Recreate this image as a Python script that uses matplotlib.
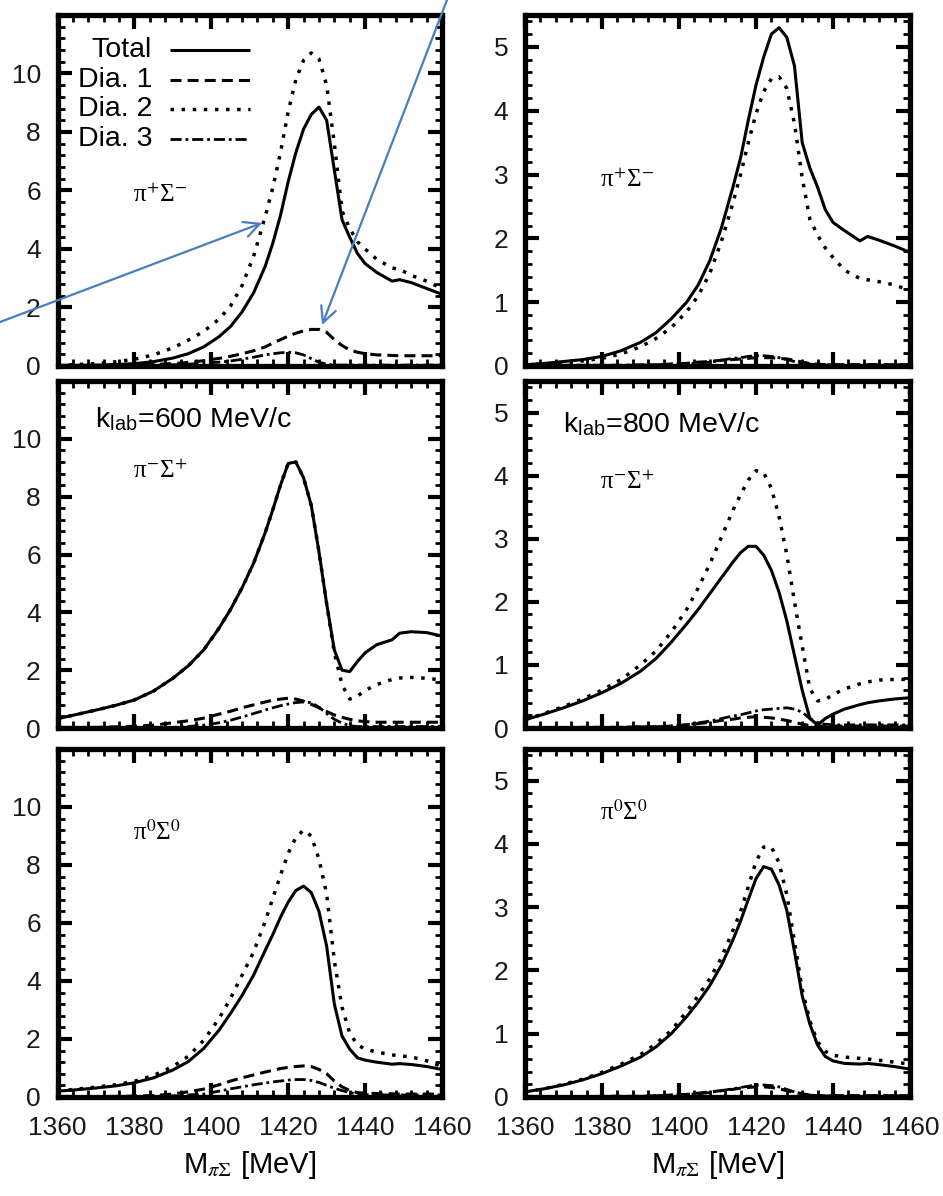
import numpy as np
import matplotlib.pyplot as plt
from matplotlib.ticker import MultipleLocator

plt.rc('font', family='Liberation Sans', size=18)
plt.rc('mathtext', fontset='stix')

# invariant mass grid M_piSigma [MeV]
m_pisig = [1360, 1365, 1370, 1375, 1380, 1385, 1390, 1394, 1398, 1402, 1405,
           1408, 1411, 1414, 1416, 1418, 1420, 1422, 1424, 1426, 1428, 1430,
           1432, 1434, 1436, 1438, 1440, 1443, 1447, 1449, 1452, 1456, 1460]

# pi+ Sigma-, k_lab = 600 MeV/c
pp600_total = [0.02, 0.02, 0.03, 0.05, 0.08, 0.15, 0.27, 0.42, 0.65, 1.0, 1.35, 1.85, 2.5, 3.4, 4.2,
               5.15, 6.3, 7.3, 8.1, 8.6, 8.85, 8.4, 6.7, 5.0, 4.4, 3.85, 3.5, 3.2, 2.9, 2.95, 2.85, 2.65, 2.45]
pp600_dia1 = [0.0, 0.01, 0.01, 0.02, 0.03, 0.05, 0.08, 0.12, 0.18, 0.26, 0.33, 0.42, 0.52, 0.65, 0.78,
              0.9, 1.02, 1.12, 1.2, 1.25, 1.25, 1.15, 0.9, 0.7, 0.55, 0.47, 0.42, 0.38, 0.36, 0.35, 0.35, 0.35, 0.35]
pp600_dia2 = [0.02, 0.05, 0.08, 0.14, 0.23, 0.38, 0.62, 0.88, 1.18, 1.6, 2.05, 2.75, 3.75, 5.1, 6.1,
              7.3, 8.7, 9.8, 10.45, 10.7, 10.5, 9.6, 7.6, 5.3, 4.7, 4.25, 4.0, 3.65, 3.35, 3.3, 3.1, 2.9, 2.65]
pp600_dia3 = [0.0, 0.0, 0.01, 0.01, 0.02, 0.03, 0.04, 0.06, 0.1, 0.13, 0.17, 0.23, 0.3, 0.38, 0.42,
              0.45, 0.47, 0.45, 0.38, 0.25, 0.13, 0.06, 0.03, 0.03, 0.03, 0.03, 0.03, 0.03, 0.03, 0.03, 0.03, 0.03, 0.03]

# pi+ Sigma-, k_lab = 800 MeV/c
pp800_total = [0.02, 0.04, 0.07, 0.1, 0.15, 0.24, 0.37, 0.52, 0.74, 1.0, 1.27, 1.65, 2.16, 2.8, 3.26,
               3.85, 4.4, 4.84, 5.2, 5.3, 5.15, 4.7, 3.5, 3.1, 2.8, 2.45, 2.25, 2.12, 1.96, 2.03, 1.97, 1.88, 1.78]
pp800_dia1 = [0.01, 0.01, 0.01, 0.01, 0.01, 0.01, 0.01, 0.02, 0.03, 0.04, 0.06, 0.07, 0.09, 0.1, 0.11,
              0.12, 0.13, 0.13, 0.13, 0.12, 0.11, 0.09, 0.06, 0.04, 0.03, 0.02, 0.02, 0.02, 0.02, 0.02, 0.02, 0.02, 0.02]
pp800_dia2 = [0.02, 0.03, 0.05, 0.08, 0.12, 0.19, 0.3, 0.43, 0.6, 0.85, 1.1, 1.45, 1.95, 2.55, 3.0,
              3.5, 3.95, 4.3, 4.5, 4.53, 4.35, 3.8, 2.95, 2.3, 2.05, 1.85, 1.7, 1.5, 1.37, 1.35, 1.32, 1.27, 1.18]
pp800_dia3 = [0.0, 0.0, 0.0, 0.01, 0.01, 0.01, 0.02, 0.02, 0.03, 0.04, 0.04, 0.06, 0.09, 0.12, 0.13,
              0.15, 0.16, 0.16, 0.15, 0.13, 0.1, 0.07, 0.04, 0.03, 0.02, 0.02, 0.02, 0.02, 0.02, 0.02, 0.02, 0.02, 0.02]

# pi- Sigma+, k_lab = 600 MeV/c
mp600_total = [0.32, 0.47, 0.62, 0.78, 0.97, 1.28, 1.72, 2.15, 2.7, 3.45, 4.1, 4.85, 5.7, 6.75, 7.55,
               8.4, 9.15, 9.2, 8.65, 7.7, 6.1, 4.3, 2.7, 2.0, 1.95, 2.3, 2.6, 2.88, 3.05, 3.28, 3.33, 3.3, 3.18]
mp600_dia1 = [0.0, 0.01, 0.02, 0.04, 0.06, 0.1, 0.18, 0.25, 0.34, 0.48, 0.58, 0.7, 0.8, 0.9, 0.96,
              1.0, 1.03, 1.0, 0.93, 0.82, 0.7, 0.57, 0.45, 0.37, 0.3, 0.25, 0.22, 0.2, 0.2, 0.2, 0.2, 0.2, 0.2]
mp600_dia2 = [0.32, 0.47, 0.62, 0.78, 0.97, 1.28, 1.72, 2.15, 2.7, 3.45, 4.1, 4.85, 5.7, 6.75, 7.55,
              8.4, 9.15, 9.2, 8.65, 7.7, 6.1, 4.3, 2.6, 1.5, 1.0, 1.1, 1.3, 1.5, 1.68, 1.73, 1.75, 1.72, 1.66]
mp600_dia3 = [0.0, 0.0, 0.0, 0.0, 0.01, 0.01, 0.02, 0.05, 0.1, 0.18, 0.27, 0.38, 0.5, 0.62, 0.7,
              0.77, 0.83, 0.88, 0.9, 0.88, 0.72, 0.5, 0.3, 0.17, 0.08, 0.05, 0.05, 0.05, 0.05, 0.05, 0.05, 0.05, 0.05]

# pi- Sigma+, k_lab = 800 MeV/c
mp800_total = [0.13, 0.22, 0.32, 0.43, 0.56, 0.71, 0.9, 1.1, 1.36, 1.65, 1.88, 2.13, 2.38, 2.63, 2.78,
               2.88, 2.88, 2.74, 2.5, 2.15, 1.7, 1.15, 0.6, 0.15, 0.05, 0.15, 0.22, 0.3, 0.37, 0.4, 0.43, 0.46, 0.48]
mp800_dia1 = [0.0, 0.0, 0.0, 0.01, 0.01, 0.01, 0.02, 0.02, 0.03, 0.05, 0.07, 0.09, 0.12, 0.14, 0.16,
              0.17, 0.18, 0.17, 0.16, 0.14, 0.12, 0.09, 0.06, 0.04, 0.03, 0.03, 0.03, 0.03, 0.03, 0.03, 0.03, 0.03, 0.03]
mp800_dia2 = [0.13, 0.23, 0.34, 0.46, 0.6, 0.77, 1.0, 1.22, 1.52, 1.88, 2.22, 2.6, 3.02, 3.45, 3.7,
              3.93, 4.08, 4.05, 3.8, 3.35, 2.75, 2.0, 1.3, 0.62, 0.43, 0.45, 0.53, 0.62, 0.7, 0.73, 0.76, 0.77, 0.77]
mp800_dia3 = [0.0, 0.0, 0.0, 0.01, 0.01, 0.01, 0.02, 0.02, 0.03, 0.05, 0.08, 0.11, 0.15, 0.19, 0.21,
              0.24, 0.27, 0.29, 0.3, 0.31, 0.32, 0.3, 0.25, 0.15, 0.08, 0.06, 0.05, 0.05, 0.05, 0.05, 0.05, 0.05, 0.05]

# pi0 Sigma0, k_lab = 600 MeV/c
zz600_total = [0.2, 0.25, 0.31, 0.38, 0.49, 0.66, 0.93, 1.22, 1.67, 2.3, 2.88, 3.5, 4.2, 5.05, 5.6,
               6.2, 6.72, 7.12, 7.27, 7.05, 6.4, 5.2, 3.2, 2.1, 1.65, 1.35, 1.27, 1.2, 1.13, 1.15, 1.12, 1.05, 0.95]
zz600_dia1 = [0.0, 0.0, 0.01, 0.02, 0.03, 0.05, 0.1, 0.18, 0.27, 0.42, 0.55, 0.66, 0.76, 0.86, 0.92,
              0.98, 1.02, 1.05, 1.07, 1.05, 0.95, 0.8, 0.55, 0.35, 0.22, 0.15, 0.13, 0.12, 0.11, 0.1, 0.1, 0.1, 0.1]
zz600_dia2 = [0.2, 0.27, 0.34, 0.42, 0.54, 0.74, 1.05, 1.4, 1.95, 2.7, 3.4, 4.2, 5.0, 6.05, 6.85,
              7.65, 8.4, 8.95, 9.2, 9.0, 8.2, 7.0, 4.7, 3.1, 2.2, 1.8, 1.65, 1.55, 1.45, 1.42, 1.38, 1.25, 1.05]
zz600_dia3 = [0.0, 0.0, 0.0, 0.01, 0.01, 0.02, 0.04, 0.07, 0.1, 0.2, 0.28, 0.35, 0.42, 0.48, 0.52,
              0.55, 0.58, 0.6, 0.6, 0.57, 0.5, 0.4, 0.3, 0.22, 0.15, 0.1, 0.08, 0.07, 0.07, 0.07, 0.07, 0.07, 0.07]

# pi0 Sigma0, k_lab = 800 MeV/c
zz800_total = [0.08, 0.13, 0.19, 0.27, 0.37, 0.49, 0.63, 0.79, 1.0, 1.27, 1.5, 1.76, 2.08, 2.48, 2.78,
               3.12, 3.45, 3.64, 3.6, 3.35, 2.95, 2.3, 1.6, 1.15, 0.82, 0.64, 0.57, 0.53, 0.52, 0.53, 0.51, 0.48, 0.44]
zz800_dia1 = [0.0, 0.0, 0.0, 0.0, 0.01, 0.01, 0.01, 0.02, 0.03, 0.04, 0.06, 0.08, 0.1, 0.12, 0.14,
              0.15, 0.16, 0.16, 0.15, 0.13, 0.1, 0.07, 0.05, 0.03, 0.02, 0.02, 0.02, 0.02, 0.02, 0.02, 0.02, 0.02, 0.02]
zz800_dia2 = [0.08, 0.13, 0.2, 0.28, 0.39, 0.52, 0.67, 0.84, 1.05, 1.35, 1.6, 1.87, 2.2, 2.63, 2.93,
              3.32, 3.72, 3.95, 3.95, 3.7, 3.2, 2.45, 1.7, 1.2, 0.87, 0.72, 0.66, 0.63, 0.61, 0.6, 0.58, 0.55, 0.52]
zz800_dia3 = [0.0, 0.0, 0.0, 0.0, 0.01, 0.01, 0.01, 0.02, 0.03, 0.04, 0.05, 0.07, 0.1, 0.13, 0.15,
              0.17, 0.19, 0.19, 0.18, 0.16, 0.12, 0.08, 0.05, 0.03, 0.02, 0.02, 0.02, 0.02, 0.02, 0.02, 0.02, 0.02, 0.02]

legend_names = ['Total', 'Dia. 1', 'Dia. 2', 'Dia. 3']
channel_names = ['π$^{+}$Σ$^{-}$', 'π$^{-}$Σ$^{+}$', 'π$^{0}$Σ$^{0}$']
klab_names = ['k$_{\\mathregular{lab}}$=600 MeV/c', 'k$_{\\mathregular{lab}}$=800 MeV/c']

# line styles (gnuplot look)
styles = [dict(ls='-', lw=2.2),
          dict(ls=(0, (3.6, 2.0)), lw=2.2),
          dict(ls=(0, (1.0, 2.2)), lw=2.5),
          dict(ls=(0, (4.0, 1.4, 1.0, 1.4)), lw=2.0)]

panels = [[(pp600_total, pp600_dia1, pp600_dia2, pp600_dia3), (pp800_total, pp800_dia1, pp800_dia2, pp800_dia3)],
          [(mp600_total, mp600_dia1, mp600_dia2, mp600_dia3), (mp800_total, mp800_dia1, mp800_dia2, mp800_dia3)],
          [(zz600_total, zz600_dia1, zz600_dia2, zz600_dia3), (zz800_total, zz800_dia1, zz800_dia2, zz800_dia3)]]

fig = plt.figure(figsize=(9.43, 11.96), dpi=100)
lefts = [0.061, 0.5567]
widths = [0.4077, 0.4083]
bottoms = [0.6940, 0.3913, 0.0828]
heights = [0.2935, 0.2901, 0.291]
# channel label positions (axes fraction)
chan_pos = [[(0.196, 0.467), (0.195, 0.51)],
            [(0.196, 0.72), (0.195, 0.69)],
            [(0.196, 0.738), (0.195, 0.796)]]

axes = {}
for r in range(3):
    for c in range(2):
        ax = fig.add_axes([lefts[c], bottoms[r], widths[c], heights[r]])
        axes[(r, c)] = ax
        curves = panels[r][c]
        for k in [3, 1, 2, 0]:
            ax.plot(m_pisig, curves[k], color='black', solid_capstyle='butt',
                    dash_capstyle='butt', **styles[k])
        ax.set_xlim(1360, 1460)
        ax.xaxis.set_major_locator(MultipleLocator(20))
        ax.xaxis.set_minor_locator(MultipleLocator(4))
        if c == 0:
            ax.set_ylim(0, 12)
            ax.set_yticks(np.arange(0, 11, 2))
            ax.yaxis.set_minor_locator(MultipleLocator(0.4))
        else:
            ax.set_ylim(0, 5.5)
            ax.set_yticks(np.arange(0, 6, 1))
            ax.yaxis.set_minor_locator(MultipleLocator(0.2))
        ax.tick_params(which='both', direction='in', top=True, right=True, colors='black')
        ax.tick_params(which='major', length=10, width=3, labelsize=19, labelcolor='#1a1a1a')
        ax.tick_params(axis='y', which='major', pad=12)
        ax.tick_params(axis='x', which='major', pad=14)
        ax.tick_params(which='minor', length=5, width=2)
        for s in ax.spines.values():
            s.set_linewidth(3.8)
        if r < 2:
            ax.tick_params(labelbottom=False)
        else:
            ax.set_xlabel('M$_{\\pi\\Sigma}$ [MeV]', fontsize=21, labelpad=6)
        x0, y0 = chan_pos[r][c]
        ax.text(x0, y0, channel_names[r], transform=ax.transAxes, fontsize=18,
                family='Liberation Serif', va='baseline', ha='left')

# k_lab labels
axes[(1, 0)].text(0.0975, 0.865, klab_names[0], transform=axes[(1, 0)].transAxes,
                  fontsize=20.5, va='baseline', ha='left')
axes[(1, 1)].text(0.099, 0.853, klab_names[1], transform=axes[(1, 1)].transAxes,
                  fontsize=20.5, va='baseline', ha='left')

# legend, gnuplot style: right aligned text then line sample
ax = axes[(0, 0)]
for i, name in enumerate(legend_names):
    yy = 0.900 - 0.084 * i
    ax.text(0.246, yy, name, transform=ax.transAxes, fontsize=20.5, ha='right', va='center')
    ax.plot([0.293, 0.50], [yy, yy], transform=ax.transAxes, color='black',
            solid_capstyle='butt', dash_capstyle='butt', **styles[i])

# blue pointer arrows drawn over the figure
arrow_kw = dict(arrowstyle='->', color='#4a7ebb', lw=1.6, mutation_scale=28,
                shrinkA=0, shrinkB=0)
ax.annotate('', xy=(1413.2, 4.89), xytext=(1345.0, 1.5), arrowprops=arrow_kw,
            annotation_clip=False, zorder=10)
ax.annotate('', xy=(1428.8, 1.40), xytext=(1461.8, 12.68), arrowprops=arrow_kw,
            annotation_clip=False, zorder=10)

fig.savefig('out.png', dpi=100)
